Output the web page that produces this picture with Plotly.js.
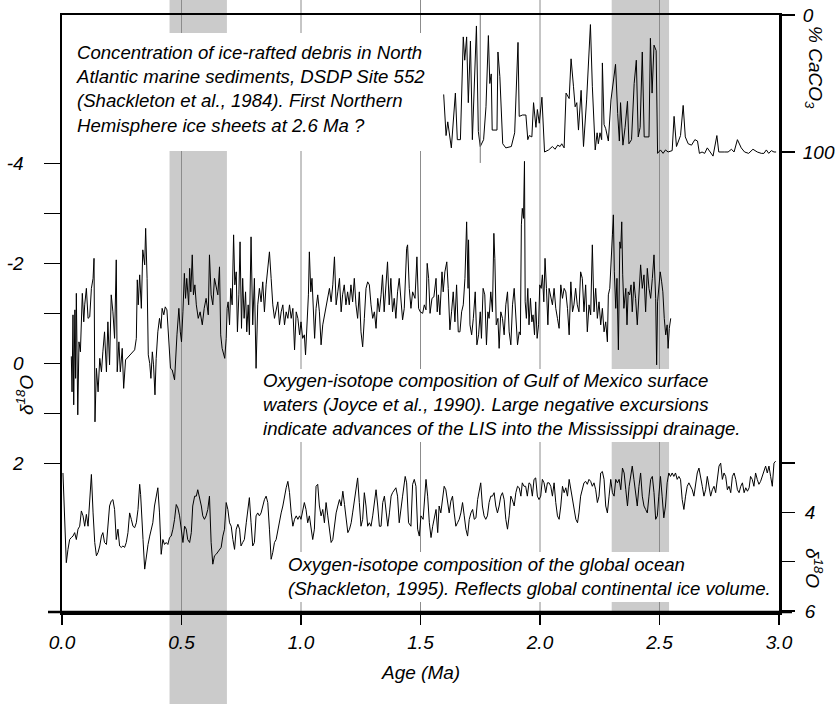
<!DOCTYPE html>
<html>
<head>
<meta charset="utf-8">
<script src="https://cdn.plot.ly/plotly-3.0.1.min.js"></script>
<style>html,body{margin:0;padding:0;background:#fff;}#chart{width:835px;height:704px;}</style>
</head>
<body>
<div id="chart"></div>
<script>
// ---------- DATA ----------
// Age axis ticks (Ma)
const ageTicks = [0, 0.5, 1.0, 1.5, 2.0, 2.5, 3.0];
const ageTickText = ['0.0', '0.5', '1.0', '1.5', '2.0', '2.5', '3.0'];
// Left axis: Gulf of Mexico d18O
const gulfTickVals = [-4, -2, 0, 2];
const gulfTickText = ['-4', '-2', '0', '2'];
const gulfMinorTicks = [-3, -1, 1];
// Right upper axis: % CaCO3
const caco3TickVals = [0, 100];
const caco3TickText = ['0', '100'];
// Right lower axis: global d18O
const globalTickVals = [4, 6];
const globalTickText = ['4', '6'];
const globalMinorTicks = [3, 5];

// Shaded intervals (Ma)
const bandStart = [0.45, 2.30];
const bandEnd = [0.69, 2.54];
// Vertical reference lines (Ma)
const gridAges = [0.5, 1.0, 1.5, 2.0, 2.5];

// Gulf of Mexico surface-water d18O (Joyce et al., 1990)
const gulfAge = [0.039,0.042,0.046,0.049,0.054,0.057,0.060,0.066,0.071,0.077,
 0.085,0.091,0.095,0.102,0.109,0.116,0.123,0.130,0.134,0.138,
 0.144,0.151,0.158,0.165,0.171,0.178,0.186,0.192,0.199,0.206,
 0.213,0.220,0.227,0.231,0.238,0.244,0.252,0.258,0.266,0.304,
 0.311,0.315,0.319,0.325,0.332,0.338,0.346,0.350,0.356,0.361,
 0.367,0.372,0.378,0.383,0.389,0.394,0.401,0.408,0.414,0.419,
 0.426,0.432,0.439,0.447,0.454,0.461,0.471,0.481,0.489,0.495,
 0.500,0.506,0.512,0.517,0.522,0.530,0.534,0.539,0.545,0.550,
 0.556,0.562,0.570,0.578,0.587,0.595,0.603,0.612,0.617,0.624,
 0.631,0.638,0.645,0.652,0.659,0.664,0.670,0.676,0.681,0.687,
 0.691,0.695,0.701,0.706,0.712,0.718,0.723,0.729,0.734,0.740,
 0.745,0.751,0.756,0.762,0.768,0.773,0.779,0.784,0.791,0.798,
 0.805,0.812,0.819,0.826,0.833,0.840,0.847,0.854,0.861,0.868,
 0.875,0.882,0.889,0.896,0.903,0.910,0.917,0.924,0.931,0.938,
 0.945,0.952,0.959,0.966,0.973,0.980,0.987,0.994,1.000,1.007,
 1.014,1.019,1.024,1.031,1.035,1.041,1.046,1.052,1.057,1.063,
 1.070,1.077,1.084,1.091,1.098,1.105,1.112,1.119,1.126,1.133,
 1.140,1.147,1.154,1.161,1.168,1.174,1.181,1.188,1.195,1.202,
 1.209,1.216,1.223,1.230,1.237,1.244,1.251,1.258,1.265,1.272,
 1.279,1.286,1.293,1.300,1.307,1.314,1.321,1.328,1.335,1.341,
 1.348,1.355,1.362,1.369,1.376,1.383,1.390,1.397,1.404,1.411,
 1.418,1.425,1.432,1.442,1.446,1.453,1.460,1.467,1.477,1.485,
 1.492,1.499,1.509,1.516,1.523,1.528,1.534,1.540,1.548,1.556,
 1.565,1.570,1.575,1.581,1.590,1.595,1.602,1.610,1.616,1.623,
 1.630,1.637,1.644,1.651,1.658,1.665,1.672,1.679,1.686,1.693,
 1.699,1.701,1.707,1.714,1.721,1.729,1.736,1.743,1.750,1.755,
 1.762,1.769,1.776,1.782,1.787,1.794,1.801,1.807,1.811,1.817,
 1.824,1.829,1.836,1.843,1.850,1.857,1.864,1.871,1.878,1.885,
 1.892,1.899,1.906,1.913,1.918,1.922,1.926,1.931,1.935,1.938,
 1.943,1.949,1.954,1.960,1.966,1.971,1.977,1.982,1.988,1.994,
 1.999,2.005,2.010,2.016,2.021,2.027,2.033,2.038,2.045,2.052,
 2.059,2.066,2.073,2.080,2.087,2.094,2.101,2.108,2.115,2.122,
 2.129,2.136,2.142,2.149,2.156,2.163,2.170,2.177,2.184,2.191,
 2.198,2.205,2.212,2.219,2.226,2.233,2.240,2.247,2.254,2.261,
 2.268,2.275,2.282,2.286,2.292,2.297,2.303,2.307,2.311,2.317,
 2.322,2.328,2.334,2.338,2.342,2.346,2.351,2.359,2.364,2.369,
 2.375,2.381,2.386,2.393,2.400,2.407,2.414,2.421,2.428,2.435,
 2.442,2.449,2.456,2.463,2.470,2.477,2.484,2.488,2.492,2.497,
 2.503,2.509,2.514,2.520,2.526,2.532,2.536,2.541,2.547];
const gulfD18O = [-0.14,0.57,-0.97,0.83,-1.07,0.30,-1.40,1.03,-0.43,-0.23,
 -1.40,-0.83,-1.17,-1.50,-0.90,-0.93,-1.50,-1.70,-2.10,1.17,
 0.10,0.57,-0.10,0.17,-0.23,-0.63,0.17,-0.83,0.03,-1.37,
 -1.03,-0.50,-2.07,0.17,-0.43,0.17,-0.30,0.50,-0.07,-0.27,
 -0.50,-1.67,-1.17,-1.77,-1.10,-2.27,-1.97,-2.70,-1.70,-0.17,
 0.00,0.30,-0.23,0.03,0.63,-0.10,-0.63,-0.90,-0.70,-1.10,
 -0.97,-1.13,-1.07,-0.37,0.10,0.13,0.33,-0.57,-1.10,-0.63,
 -0.43,-1.03,-1.80,-1.30,-1.70,-1.17,-1.90,-1.43,-2.17,-1.37,
 -1.57,-1.17,-0.90,-1.03,-0.77,-1.10,-1.30,-0.97,-2.17,-1.37,
 -1.17,-1.70,-1.50,-1.37,-1.93,-0.57,-0.30,-0.17,-0.10,-0.50,
 -1.10,-1.23,-0.77,-1.50,-1.17,-2.57,-1.57,-1.83,-0.63,-1.37,
 -2.43,-0.70,-1.70,-0.90,-1.43,-0.63,-1.17,-0.57,-2.53,-0.77,
 -1.70,0.10,-1.17,-1.50,-1.23,-1.63,-1.03,-1.57,-1.90,-2.23,
 -1.70,-1.17,-0.90,-1.10,-1.23,-0.77,-1.03,-1.17,-0.77,-1.03,
 -0.90,-1.17,-0.90,-1.10,-0.27,-1.03,-0.90,-0.57,-0.83,-0.50,
 -0.57,-0.17,-0.77,-1.37,-2.23,-1.43,-1.70,-1.03,-0.50,-1.10,
 -1.37,-1.03,-0.37,-0.77,-0.97,-1.17,-1.37,-1.50,-1.23,-1.57,
 -2.13,-1.17,-1.43,-1.70,-1.03,-1.37,-1.57,-1.17,-1.43,-1.17,
 -1.57,-1.23,-1.70,-1.17,-0.90,-1.43,-0.63,-0.33,-0.90,-1.50,
 -1.63,-1.57,-1.17,-0.90,-1.03,-0.70,-1.30,-1.03,-1.37,-1.77,
 -1.03,-1.50,-2.03,-1.17,-1.70,-1.03,-1.30,-0.90,-1.43,-1.70,
 -1.17,-0.87,-1.10,-2.30,-2.37,-1.50,-1.10,-1.43,-1.30,-2.13,
 -1.10,-1.03,-1.00,-1.17,-1.07,-2.00,-1.70,-1.00,-1.30,-1.33,
 -1.70,-1.03,-1.37,-0.97,-1.83,-1.43,-1.83,-2.03,-1.50,-0.67,
 -1.03,-1.43,-0.83,-1.57,-0.63,-0.63,-1.03,-1.17,-1.70,-2.83,
 -1.50,-2.47,-0.77,-0.57,-0.90,-1.43,-0.37,-0.57,-1.03,-0.50,
 -1.50,-1.37,-0.37,-1.03,-0.90,-1.43,-1.03,-2.60,-2.10,-0.77,
 -0.90,-0.30,-1.03,-0.90,-0.57,-1.17,-1.43,-0.63,-0.37,-1.17,
 -1.50,-0.97,-0.37,-0.63,-0.57,-2.77,-3.10,-2.90,-4.04,-1.23,
 -0.90,-1.50,-0.77,-1.30,-0.83,-0.97,-0.57,-1.23,-0.50,-0.77,
 -1.57,-1.50,-1.77,-1.23,-2.10,-1.50,-0.77,-1.50,-1.30,-1.17,
 -1.50,-1.10,-0.90,-0.70,-1.57,-1.30,-1.50,-1.43,-1.10,-0.57,
 -1.63,-1.03,-1.17,-1.50,-1.17,-1.03,-1.83,-1.70,-1.03,-1.57,
 -0.63,-1.17,-0.97,-2.37,-1.03,-1.50,-0.90,-1.23,-0.77,-1.10,
 -0.63,-0.83,-0.43,-1.37,-1.50,-2.17,-2.57,-2.97,-1.83,-1.10,
 -1.70,-0.27,-2.43,-2.30,-2.83,-1.77,-1.10,-1.50,-0.77,-1.43,
 -1.37,-1.57,-1.03,-1.63,-1.30,-0.77,-1.43,-1.97,-1.50,-1.77,
 -1.03,-1.90,-1.50,-1.30,-1.70,-2.17,-1.30,0.03,-1.23,-1.57,
 -1.83,-1.63,-1.43,-0.90,-0.57,-0.77,-0.30,-0.70,-0.90];

// % CaCO3, DSDP Site 552 (Shackleton et al., 1984)
const caco3Age = [1.597,1.607,1.614,1.629,1.646,1.654,1.667,1.679,1.685,1.693,
 1.700,1.709,1.717,1.725,1.734,1.742,1.750,1.764,1.774,1.784,
 1.790,1.796,1.800,1.820,1.824,1.832,1.844,1.857,1.880,1.894,
 1.908,1.913,1.927,1.941,1.949,1.955,1.966,1.973,1.983,1.989,
 1.997,2.008,2.019,2.036,2.052,2.063,2.074,2.084,2.091,2.101,
 2.109,2.122,2.130,2.140,2.147,2.154,2.161,2.172,2.182,2.195,
 2.211,2.219,2.231,2.239,2.244,2.251,2.258,2.261,2.268,2.275,
 2.286,2.297,2.307,2.316,2.325,2.332,2.337,2.347,2.356,2.366,
 2.372,2.383,2.394,2.403,2.411,2.419,2.428,2.436,2.456,2.462,
 2.469,2.477,2.486,2.492,2.504,2.515,2.525,2.536,2.553,2.561,
 2.571,2.588,2.599,2.608,2.620,2.634,2.648,2.659,2.667,2.678,
 2.689,2.700,2.712,2.724,2.740,2.748,2.773,2.787,2.801,2.812,
 2.826,2.842,2.856,2.873,2.891,2.909,2.926,2.937,2.947,2.957,
 2.968,2.979,2.988];
const caco3Pct = [58,88,78,97,57,91,91,16,33,16,
 64,19,91,45,8,85,96,91,67,15,
 50,43,84,84,27,45,94,97,96,86,
 20,74,73,73,91,88,89,64,82,69,
 79,60,100,98.5,96,98,95,96,94,97,
 57,61,32,52,67,64,84,55,96,62,
 7,52,98.5,86,94,86,91,35,80,83,
 92,62,46,36,72,92,64,95,82,63,
 94,91,50,33,89,82,27,89,89,17,
 57,22,26,101,98.5,101,98.5,100,99,74,
 96,88,66,89,94,95,91,92,101,100,
 101,97,100,103,88,100,100,100,98,100,
 91,97,100,101,98,100,101,101,98.5,101,
 99,100,100];
// thin stray trace segment in the CaCO3 record
const caco3GlitchAge = [1.750, 1.750];
const caco3GlitchPct = [0, 108];

// Global ocean d18O (Shackleton, 1995)
const globalAge = [0.004,0.011,0.018,0.025,0.032,0.039,0.046,0.053,0.060,0.067,
 0.074,0.081,0.088,0.095,0.102,0.109,0.116,0.123,0.130,0.137,
 0.144,0.151,0.158,0.165,0.171,0.178,0.186,0.192,0.199,0.206,
 0.213,0.220,0.227,0.234,0.241,0.248,0.255,0.262,0.269,0.276,
 0.283,0.290,0.297,0.304,0.311,0.318,0.325,0.329,0.333,0.339,
 0.346,0.353,0.360,0.367,0.374,0.380,0.387,0.394,0.401,0.408,
 0.415,0.422,0.429,0.436,0.443,0.450,0.457,0.464,0.471,0.478,
 0.485,0.492,0.499,0.506,0.513,0.520,0.526,0.534,0.541,0.547,
 0.555,0.562,0.568,0.575,0.583,0.589,0.596,0.603,0.610,0.617,
 0.624,0.631,0.638,0.645,0.652,0.659,0.666,0.673,0.680,0.687,
 0.694,0.701,0.708,0.715,0.722,0.729,0.736,0.743,0.749,0.756,
 0.763,0.771,0.778,0.784,0.791,0.798,0.805,0.812,0.819,0.826,
 0.833,0.840,0.847,0.854,0.861,0.868,0.875,0.882,0.889,0.896,
 0.903,0.910,0.917,0.924,0.931,0.938,0.945,0.952,0.959,0.966,
 0.973,0.980,0.987,0.994,1.000,1.007,1.014,1.021,1.028,1.035,
 1.042,1.049,1.056,1.063,1.070,1.077,1.084,1.091,1.098,1.105,
 1.112,1.119,1.126,1.133,1.140,1.147,1.154,1.161,1.168,1.175,
 1.182,1.189,1.196,1.203,1.210,1.216,1.223,1.230,1.237,1.244,
 1.251,1.258,1.265,1.272,1.279,1.286,1.293,1.300,1.307,1.314,
 1.321,1.328,1.335,1.342,1.349,1.356,1.363,1.370,1.377,1.383,
 1.390,1.397,1.404,1.411,1.425,1.436,1.442,1.450,1.460,1.467,
 1.474,1.481,1.488,1.495,1.502,1.511,1.523,1.530,1.537,1.544,
 1.551,1.557,1.565,1.572,1.578,1.585,1.592,1.599,1.606,1.613,
 1.620,1.627,1.634,1.641,1.648,1.655,1.662,1.669,1.676,1.683,
 1.690,1.697,1.704,1.711,1.718,1.725,1.732,1.739,1.746,1.752,
 1.759,1.766,1.773,1.780,1.787,1.794,1.801,1.808,1.815,1.822,
 1.829,1.836,1.843,1.850,1.857,1.864,1.871,1.878,1.884,1.892,
 1.899,1.906,1.913,1.920,1.926,1.933,1.940,1.947,1.954,1.961,
 1.968,1.975,1.982,1.989,1.996,2.003,2.010,2.017,2.024,2.031,
 2.038,2.045,2.052,2.059,2.066,2.073,2.080,2.087,2.094,2.101,
 2.108,2.115,2.122,2.129,2.136,2.143,2.150,2.157,2.163,2.170,
 2.177,2.184,2.191,2.198,2.205,2.212,2.219,2.226,2.233,2.240,
 2.247,2.254,2.261,2.268,2.275,2.282,2.289,2.296,2.303,2.310,
 2.317,2.324,2.331,2.338,2.345,2.352,2.359,2.366,2.373,2.380,
 2.386,2.393,2.400,2.407,2.414,2.421,2.428,2.435,2.442,2.449,
 2.456,2.463,2.470,2.477,2.484,2.491,2.497,2.504,2.511,2.518,
 2.525,2.532,2.539,2.546,2.553,2.560,2.567,2.574,2.581,2.588,
 2.595,2.602,2.609,2.616,2.623,2.630,2.637,2.644,2.651,2.658,
 2.665,2.672,2.679,2.686,2.693,2.700,2.707,2.714,2.721,2.728,
 2.735,2.742,2.749,2.756,2.763,2.770,2.777,2.784,2.791,2.798,
 2.805,2.812,2.819,2.826,2.833,2.840,2.847,2.854,2.861,2.868,
 2.875,2.881,2.888,2.895,2.902,2.909,2.916,2.923,2.930,2.937,
 2.944,2.951,2.958,2.965,2.972,2.979,2.986];
const globalD18O = [3.20,4.00,5.02,4.75,4.55,4.51,4.48,4.41,4.55,4.34,
 4.28,3.97,4.07,4.28,4.04,4.28,3.80,3.23,4.01,4.61,
 4.88,4.81,4.68,4.48,4.41,4.61,4.65,4.34,3.87,3.77,
 3.74,3.94,4.55,4.34,4.68,4.71,4.68,4.71,4.61,4.41,
 4.01,4.14,4.28,4.31,4.21,3.94,3.43,3.64,3.94,4.55,
 5.15,4.88,4.65,4.48,4.34,4.21,3.87,3.67,3.50,4.01,
 4.85,4.55,4.65,4.61,4.65,4.51,4.48,4.34,4.14,3.84,
 3.91,4.07,4.34,4.61,4.28,4.34,4.55,4.61,4.41,3.87,
 3.67,3.67,3.54,3.67,3.87,4.07,4.14,4.07,3.94,3.67,
 4.61,5.05,4.88,4.85,4.81,4.75,4.71,4.48,4.34,3.80,
 3.94,4.21,4.28,4.55,4.75,4.34,4.24,4.34,4.68,4.61,
 4.55,4.21,3.87,3.70,4.21,4.68,4.61,4.07,4.01,4.07,
 4.01,3.87,3.74,3.67,3.80,4.34,4.95,4.81,4.61,4.55,
 4.34,4.14,4.01,3.87,3.67,3.50,3.37,3.60,4.01,4.28,
 4.14,4.07,4.14,4.07,4.14,3.94,3.80,3.94,4.21,4.07,
 4.34,4.55,4.34,3.47,3.43,3.87,4.07,3.94,4.21,3.80,
 4.07,4.41,4.61,4.55,4.21,4.01,3.87,3.74,3.87,3.57,
 3.84,4.14,4.41,4.34,4.21,4.01,3.74,3.50,3.30,3.80,
 4.28,4.14,3.60,3.87,4.28,4.21,4.28,4.07,3.74,3.54,
 3.87,4.28,4.28,3.80,3.67,3.94,4.28,4.01,3.67,3.60,
 3.54,3.50,3.67,4.21,3.67,3.27,3.40,4.21,4.28,3.43,
 3.33,3.47,4.34,4.48,4.07,4.14,3.33,3.67,4.21,4.51,
 4.28,4.14,3.94,4.41,3.87,4.01,3.74,3.47,3.54,3.77,
 4.01,3.77,3.67,4.01,4.28,4.21,4.14,4.01,3.80,4.07,
 4.34,4.48,4.14,4.01,3.94,4.14,4.11,3.74,3.54,3.40,
 3.87,4.07,4.14,4.07,3.80,3.67,3.67,3.60,3.87,4.01,
 3.87,3.67,3.60,3.74,4.14,4.34,4.07,3.67,3.74,3.87,
 3.60,3.47,3.50,3.67,3.40,3.47,3.47,3.67,3.40,3.43,
 3.67,3.33,3.30,3.67,3.74,3.67,3.33,3.40,3.60,3.40,
 3.40,3.47,3.67,3.40,3.80,4.07,4.14,3.87,3.47,3.60,
 3.50,3.67,3.33,3.54,3.67,3.94,4.14,4.21,4.01,3.67,
 3.54,3.40,3.37,3.43,3.33,3.37,3.47,3.40,3.54,3.80,
 3.67,3.20,3.17,3.33,3.87,4.01,3.67,3.33,3.60,3.67,
 3.33,3.40,3.33,3.54,3.10,3.20,3.54,3.87,3.47,3.27,
 3.06,3.33,3.67,3.87,3.47,3.20,3.67,3.87,3.94,4.01,
 3.67,3.33,3.27,3.60,4.14,4.07,3.67,3.27,3.67,4.11,
 3.87,3.40,3.20,3.27,3.20,3.27,3.20,3.33,3.27,3.33,
 3.74,3.94,3.67,3.47,3.40,3.47,3.54,3.67,3.40,3.20,
 3.10,3.33,3.47,3.67,3.54,3.27,3.47,3.67,3.54,3.47,
 3.60,3.27,3.06,3.00,3.33,3.20,3.27,3.54,3.47,3.60,
 3.27,3.20,3.33,3.54,3.60,3.47,3.40,3.60,3.50,3.57,
 3.50,3.27,3.33,3.47,3.20,3.33,3.43,3.37,3.27,3.13,
 3.06,3.20,3.06,3.27,3.47,3.00,2.96];

// Text
const noteIRD = ['Concentration of ice-rafted debris in North',
  'Atlantic marine sediments, DSDP Site 552',
  '(Shackleton et al., 1984). First Northern',
  'Hemisphere ice sheets at 2.6 Ma ?'];
const noteGulf = ['Oxygen-isotope composition of Gulf of Mexico surface',
  'waters (Joyce et al., 1990). Large negative excursions',
  'indicate advances of the LIS into the Mississippi drainage.'];
const noteGlobal = ['Oxygen-isotope composition of the global ocean',
  '(Shackleton, 1995). Reflects global continental ice volume.'];

// ---------- LAYOUT ----------
const M = {l: 62, r: 56, t: 15, b: 92};
const H = 704, W = 835;
const plotH = H - M.t - M.b, plotW = W - M.l - M.r;
const py = px => 1 - (px - M.t) / plotH;   // pixel row -> paper y
const pxX = px => (px - M.l) / plotW;       // pixel col -> paper x
const FONT = 'Liberation Sans, Arial, Helvetica, sans-serif';
const itFont = (s) => ({family: FONT, size: s, color: '#000', style: 'italic'});

const line = {color: '#000', width: 1};
const traces = [
  {x: gulfAge, y: gulfD18O, type: 'scatter', mode: 'lines', line: line, yaxis: 'y'},
  {x: caco3Age, y: caco3Pct, type: 'scatter', mode: 'lines', line: line, yaxis: 'y2'},
  {x: caco3GlitchAge, y: caco3GlitchPct, type: 'scatter', mode: 'lines', line: {color: '#777', width: 1}, yaxis: 'y2'},
  {x: globalAge, y: globalD18O, type: 'scatter', mode: 'lines', line: line, yaxis: 'y3'}
];

const shapes = [];
const bandBottomPx = [704, M.t + plotH];
bandStart.forEach((s, i) => shapes.push({type: 'rect', xref: 'x', yref: 'paper',
  x0: s, x1: bandEnd[i], y0: py(bandBottomPx[i]), y1: py(0),
  fillcolor: '#cbcbcb', line: {width: 0}, layer: 'below'}));
gridAges.forEach(a => shapes.push({type: 'line', xref: 'x', yref: 'paper',
  x0: a, x1: a, y0: 0, y1: py(0), line: {color: '#8c8c8c', width: 1}, layer: 'below'}));
// white panels behind the captions
[[0.02, 1.56, 33, 151], [0.80, 3.0, 369, 442], [0.90, 3.0, 552, 602]].forEach(b =>
  shapes.push({type: 'rect', xref: 'x', yref: 'paper', x0: b[0], x1: b[1],
    y0: py(b[3]), y1: py(b[2]), fillcolor: '#fff', line: {width: 0}, layer: 'below'}));
// bottom axis line overhang
shapes.push({type: 'line', xref: 'paper', yref: 'paper', x0: pxX(48), x1: pxX(792), y0: 0, y1: 0,
  line: {color: '#000', width: 2.5}, layer: 'above'});

const NOTE = 18.6;
const annotations = [
  {text: noteIRD.join('<br>'), xref: 'paper', yref: 'paper', x: pxX(74), y: py(89),
   xanchor: 'left', yanchor: 'middle', align: 'left', showarrow: false, font: itFont(NOTE)},
  {text: noteGulf.join('<br>'), xref: 'paper', yref: 'paper', x: pxX(261), y: py(404),
   xanchor: 'left', yanchor: 'middle', align: 'left', showarrow: false, font: itFont(NOTE)},
  {text: noteGlobal.join('<br>'), xref: 'paper', yref: 'paper', x: pxX(286), y: py(576),
   xanchor: 'left', yanchor: 'middle', align: 'left', showarrow: false, font: itFont(NOTE)},
  {text: 'Age (Ma)', xref: 'paper', yref: 'paper', x: 0.5, y: py(672),
   xanchor: 'center', yanchor: 'middle', showarrow: false, font: itFont(19)},
  {text: 'δ<sup>18</sup>O', xref: 'paper', yref: 'paper', x: pxX(25), y: py(395), textangle: -90,
   xanchor: 'center', yanchor: 'middle', showarrow: false, font: itFont(19)},
  {text: '% CaCO<sub>3</sub>', xref: 'paper', yref: 'paper', x: pxX(814), y: py(67), textangle: 90,
   xanchor: 'center', yanchor: 'middle', showarrow: false, font: itFont(19)},
  {text: 'δ<sup>18</sup>O', xref: 'paper', yref: 'paper', x: pxX(814), y: py(568), textangle: 90,
   xanchor: 'center', yanchor: 'middle', showarrow: false, font: itFont(19)}
];

const axCommon = {showgrid: false, zeroline: false, fixedrange: true, ticks: 'outside',
  tickcolor: '#000', tickwidth: 1.5, tickfont: itFont(19)};

const layout = {
  width: W, height: H, margin: M, showlegend: false, hovermode: false,
  paper_bgcolor: '#fff', plot_bgcolor: '#fff', font: {family: FONT},
  xaxis: Object.assign({}, axCommon, {range: [0, 3], tickvals: ageTicks, ticktext: ageTickText,
    ticklen: 10, showline: true, mirror: true, linecolor: '#000', linewidth: 2.5, ticklabelstandoff: 2}),
  yaxis: Object.assign({}, axCommon, {range: [4.973, -6.967], tickvals: gulfTickVals, ticktext: gulfTickText,
    ticklen: 16, showline: true, mirror: true, linecolor: '#000', linewidth: 2.5, ticklabelstandoff: 16,
    minor: {tickvals: gulfMinorTicks, ticks: 'outside', ticklen: 16, tickwidth: 1.5, tickcolor: '#000', showgrid: false}}),
  yaxis2: Object.assign({}, axCommon, {overlaying: 'y', side: 'right', anchor: 'x',
    range: [435.8, 0], tickvals: caco3TickVals, ticktext: caco3TickText,
    ticklen: 15, showline: false, ticklabelstandoff: 4}),
  yaxis3: Object.assign({}, axCommon, {overlaying: 'y', side: 'right', anchor: 'x',
    range: [6.02, -6.09], tickvals: globalTickVals, ticktext: globalTickText,
    ticklen: 15, showline: false, ticklabelstandoff: 6,
    minor: {tickvals: globalMinorTicks, ticks: 'outside', ticklen: 15, tickwidth: 1.5, tickcolor: '#000', showgrid: false}}),
  shapes: shapes, annotations: annotations
};

Plotly.newPlot('chart', traces, layout, {staticPlot: true, displayModeBar: false});
</script>
</body>
</html>
